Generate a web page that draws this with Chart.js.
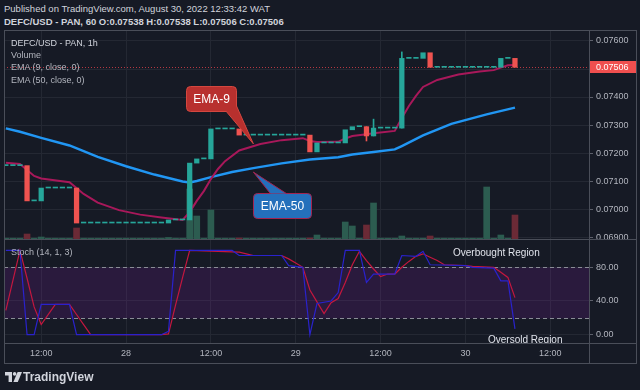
<!DOCTYPE html>
<html>
<head>
<meta charset="utf-8">
<title>DEFC/USD - PAN, 1h</title>
<script src="https://cdn.jsdelivr.net/npm/chart.js@4.4.1/dist/chart.umd.min.js"></script>
<style>
  html, body { margin: 0; padding: 0; }
  body { width: 640px; height: 390px; background: #161a25; position: relative; overflow: hidden;
         font-family: 'Liberation Sans', Arial, sans-serif; }
  .txt { position: absolute; white-space: nowrap; line-height: 11px; font-size: 9px; color: #b2b5be; }
  .line { position: absolute; background: #4a4e59; }
  canvas { position: absolute; }
</style>
</head>
<body>
<div class="txt" style="left:4px;top:3px;font-size:9.5px;color:#d1d4dc">Published on TradingView.com, August 30, 2022 12:33:42 WAT</div>
<div class="txt" style="left:4px;top:16px;font-size:9.5px;font-weight:bold;color:#d1d4dc">DEFC/USD - PAN, 60 O:0.07538 H:0.07538 L:0.07506 C:0.07506</div>

<canvas id="mainChart" width="632" height="208" style="left:4px;top:31px"></canvas>
<canvas id="stochChart" width="632" height="123" style="left:4px;top:240px"></canvas>

<!-- frame -->
<div class="line" style="left:4px;top:30px;width:633px;height:1px"></div>
<div class="line" style="left:4px;top:363px;width:633px;height:1px"></div>
<div class="line" style="left:4px;top:30px;width:1px;height:334px"></div>
<div class="line" style="left:636px;top:30px;width:1px;height:334px"></div>
<div class="line" style="left:4px;top:239px;width:633px;height:1px"></div>
<div class="line" style="left:4px;top:343px;width:633px;height:1px"></div>
<div class="line" style="left:589px;top:30px;width:1px;height:334px"></div>

<div class="txt" style="left:11px;top:38px;color:#d1d4dc">DEFC/USD - PAN, 1h</div>
<div class="txt" style="left:11px;top:50px">Volume</div>
<div class="txt" style="left:11px;top:62px">EMA (9, close, 0)</div>
<div class="txt" style="left:11px;top:74.5px">EMA (50, close, 0)</div>
<div class="txt" style="left:11px;top:246.5px">Stoch (14, 1, 3)</div>

<svg style="position:absolute;left:5px;top:372px" width="17" height="10" viewBox="0 0 17 10">
  <path d="M0 0H7V10H3.6V3.4H0Z" fill="#d1d4dc"/>
  <circle cx="9.6" cy="1.9" r="1.8" fill="#d1d4dc"/>
  <path d="M12.6 0H17L12.8 10H8.4Z" fill="#d1d4dc"/>
</svg>
<div class="txt" style="left:23px;top:371px;font-size:12px;line-height:12px;font-weight:bold;color:#d1d4dc">TradingView</div>

<script>
// hourly candles, hour 7 = Aug 27 07:00 ... hour 79 = Aug 30 07:00
const firstHour = 7;
const opens = [
  0.07155, 0.07155, 0.07155, 0.07155, 0.07029, 0.07029, 0.07075, 0.07075, 0.07075, 0.07075,
  0.07075, 0.06950, 0.06950, 0.06950, 0.06950, 0.06950, 0.06950, 0.06950, 0.06950, 0.06950,
  0.06950, 0.06950, 0.06950, 0.06950, 0.06961, 0.06961, 0.06961, 0.07164, 0.07179, 0.07179,
  0.07286, 0.07286, 0.07286, 0.07286, 0.07264, 0.07264, 0.07264, 0.07264, 0.07264, 0.07264,
  0.07264, 0.07264, 0.07264, 0.07264, 0.07204, 0.07236, 0.07236, 0.07236, 0.07236, 0.07283,
  0.07294, 0.07294, 0.07261, 0.07289, 0.07289, 0.07289, 0.07289, 0.07538, 0.07538, 0.07538,
  0.07558, 0.07506, 0.07506, 0.07506, 0.07506, 0.07506, 0.07506, 0.07506, 0.07506, 0.07506,
  0.07506, 0.07538, 0.07538
];
const closes = [
  0.07155, 0.07155, 0.07155, 0.07029, 0.07029, 0.07075, 0.07075, 0.07075, 0.07075, 0.07075,
  0.06950, 0.06950, 0.06950, 0.06950, 0.06950, 0.06950, 0.06950, 0.06950, 0.06950, 0.06950,
  0.06950, 0.06950, 0.06950, 0.06961, 0.06961, 0.06961, 0.07164, 0.07179, 0.07179, 0.07286,
  0.07286, 0.07286, 0.07286, 0.07264, 0.07264, 0.07264, 0.07264, 0.07264, 0.07264, 0.07264,
  0.07264, 0.07264, 0.07264, 0.07204, 0.07236, 0.07236, 0.07236, 0.07236, 0.07283, 0.07294,
  0.07294, 0.07261, 0.07289, 0.07289, 0.07289, 0.07289, 0.07538, 0.07538, 0.07538, 0.07558,
  0.07506, 0.07506, 0.07506, 0.07506, 0.07506, 0.07506, 0.07506, 0.07506, 0.07506, 0.07506,
  0.07538, 0.07538, 0.07506
];
const volumes = [
  8, 8, 8, 50, 8, 20, 8, 8, 8, 8,
  110, 8, 8, 8, 8, 8, 8, 8, 8, 8,
  8, 8, 8, 15, 8, 8, 500, 230, 8, 290,
  8, 8, 8, 10, 8, 8, 8, 8, 8, 8,
  8, 8, 8, 10, 40, 8, 8, 8, 170, 130,
  8, 140, 360, 8, 8, 8, 30, 8, 8, 8,
  30, 8, 8, 8, 8, 8, 8, 8, 520, 8,
  40, 8, 240
];
// candles with wicks beyond the body
const wickHours = [58, 59, 63];
const wickLows = [0.07243, 0.07261, 0.07289];
const wickHighs = [0.07294, 0.07321, 0.07561];

const ema9Hours = [7, 9, 10, 11, 12, 16, 17, 18, 20, 23, 26, 29, 32, 33, 34, 35, 36, 37, 38, 40,
  43, 46, 49, 50, 51, 54, 55, 56, 58, 59, 62, 63, 64, 65, 66, 68, 71, 74, 76, 77, 78, 79];
const ema9 = [0.07165, 0.07161, 0.07139, 0.07118, 0.07109, 0.07096, 0.07075, 0.07054, 0.07023, 0.06996,
  0.06980, 0.06970, 0.06961, 0.06989, 0.07029, 0.07064, 0.07107, 0.07143, 0.07171, 0.07209,
  0.07232, 0.07246, 0.07253, 0.07243, 0.07239, 0.07240, 0.07252, 0.07261, 0.07267, 0.07271,
  0.07279, 0.07325, 0.07368, 0.07404, 0.07436, 0.07461, 0.07480, 0.07491, 0.07496, 0.07505,
  0.07513, 0.07514];
const ema50Hours = [7, 9, 12, 16, 20, 24, 28, 32, 33, 34, 36, 39, 42, 46, 50, 54, 56, 59, 62, 63, 66, 70, 75, 79];
const ema50 = [0.07288, 0.07276, 0.07254, 0.07227, 0.07186, 0.07153, 0.07123, 0.07098, 0.07095, 0.07100,
  0.07114, 0.07132, 0.07146, 0.07163, 0.07177, 0.07185, 0.07195, 0.07204, 0.07213, 0.07225,
  0.07263, 0.07304, 0.07338, 0.07362];

const kHours = [7, 9, 10, 11, 12, 16, 17, 29, 30, 31, 39, 40, 46, 47, 49, 50, 51, 53, 54, 55,
  57, 58, 59, 62, 63, 65, 66, 67, 72, 73, 76, 77, 78, 79];
const kValues = [100, 100, 0, 0, 36, 36, 0, 0, 4, 100, 100, 94, 94, 82, 80, 0, 37, 40, 50, 100,
  100, 62, 72, 72, 94, 93, 99, 83, 82, 80, 79, 64, 64, 7];
const dHours = [7, 9, 10, 11, 12, 14, 16, 17, 18, 19, 29, 30, 31, 32, 33, 40, 41, 42, 46, 47,
  48, 49, 50, 51, 52, 53, 54, 55, 56, 57, 58, 59, 60, 61, 62, 63, 64, 65, 66, 67,
  68, 69, 72, 73, 76, 77, 78, 79];
const dValues = [29, 100, 67, 33, 12, 36, 36, 24, 12, 0, 0, 1, 35, 68, 100, 98, 96, 94, 94, 90,
  85, 80, 53, 39, 25, 38, 43, 62, 83, 99, 88, 78, 69, 72, 72, 80, 87, 93, 96, 92,
  88, 83, 82, 81, 80, 74, 68, 44];

const tickHours = [12, 24, 36, 48, 60, 72, 84];
const tickText = ['12:00', '28', '12:00', '29', '12:00', '30', '12:00'];
const priceTicks = [0.069, 0.070, 0.071, 0.072, 0.073, 0.074, 0.075, 0.076];
const stochTicks = [0, 40, 80];
const lastPrice = 0.07506;

const upColor = '#26a69a', downColor = '#ef5350';
const gridColor = '#242833', axisColor = '#4a4e59';

Chart.defaults.font.family = "'Liberation Sans', Arial, sans-serif";
Chart.defaults.color = '#b2b5be';
Chart.defaults.animation = false;

const hours = closes.map((c, i) => firstHour + i);
const isUp = closes.map((c, i) => c >= opens[i]);

function timeAxis(showLabels) {
  return {
    type: 'linear', min: 6.74, max: 89.47, offset: false,
    grid: { color: gridColor, offset: false, drawTicks: false },
    border: { display: false },
    afterBuildTicks: s => { s.ticks = tickHours.map(v => ({ value: v })); },
    ticks: { display: showLabels, autoSkip: false, maxRotation: 0, padding: 5, font: { size: 9 },
      callback: v => tickText[tickHours.indexOf(v)] },
    afterFit: s => { s.height = showLabels ? 20 : 0; s.paddingLeft = 0; s.paddingRight = 0; }
  };
}

function priceAxis(min, max, ticks, digits) {
  return {
    position: 'right', min: min, max: max,
    grid: { color: gridColor, tickColor: '#5d606b', tickLength: 4 },
    border: { color: axisColor },
    afterBuildTicks: s => { s.ticks = ticks.map(v => ({ value: v })); },
    ticks: { padding: 3, font: { size: 9 }, callback: v => v.toFixed(digits) },
    afterFit: s => { s.width = 47; s.paddingTop = 0; s.paddingBottom = 0; }
  };
}

function callout(ctx, box, base, tip, fill, stroke, text) {
  ctx.save();
  ctx.fillStyle = fill;
  ctx.strokeStyle = stroke;
  ctx.lineWidth = 1;
  ctx.beginPath();
  ctx.roundRect(box.x + 0.5, box.y + 0.5, box.w, box.h, 4);
  ctx.fill();
  ctx.stroke();
  ctx.beginPath();
  ctx.moveTo(base[0], base[1]);
  ctx.lineTo(tip.x, tip.y);
  ctx.lineTo(base[2], base[3]);
  ctx.closePath();
  ctx.fill();
  ctx.beginPath();
  ctx.moveTo(base[0], base[1]);
  ctx.lineTo(tip.x, tip.y);
  ctx.lineTo(base[2], base[3]);
  ctx.stroke();
  ctx.fillStyle = '#ffffff';
  ctx.font = "12px 'Liberation Sans', Arial, sans-serif";
  ctx.textAlign = 'center';
  ctx.textBaseline = 'middle';
  ctx.fillText(text, box.x + box.w / 2 + 0.5, box.y + box.h / 2 + 1);
  ctx.restore();
}

const mainDecor = {
  id: 'mainDecor',
  beforeDatasetsDraw(chart) {
    const { ctx, chartArea: a, scales } = chart;
    const y = Math.round(scales.y.getPixelForValue(lastPrice)) + 0.5;
    ctx.save();
    ctx.strokeStyle = 'rgba(200,60,70,0.9)';
    ctx.setLineDash([1, 2]);
    ctx.beginPath();
    ctx.moveTo(a.left, y);
    ctx.lineTo(a.right, y);
    ctx.stroke();
    ctx.restore();
  },
  afterDraw(chart) {
    const { ctx, chartArea: a, scales } = chart;
    const y = scales.y.getPixelForValue(lastPrice);
    ctx.save();
    ctx.fillStyle = '#f04f4f';
    ctx.fillRect(a.right + 1, Math.round(y) - 6, 48, 12);
    ctx.fillStyle = '#ffffff';
    ctx.font = "9px 'Liberation Sans', Arial, sans-serif";
    ctx.textBaseline = 'middle';
    ctx.fillText(lastPrice.toFixed(5), a.right + 7, Math.round(y) + 0.5);
    ctx.restore();

    // EMA-9 note
    const t9 = { x: scales.x.getPixelForValue(42), y: scales.y.getPixelForValue(0.07233) };
    const b9 = { x: Math.round(t9.x - 67), y: Math.round(t9.y - 58), w: 50, h: 25 };
    callout(ctx, b9, [t9.x - 27, b9.y + b9.h + 0.5, b9.x + b9.w + 0.5, b9.y + b9.h - 5], t9,
      '#b8302e', '#d4473f', 'EMA-9');
    // EMA-50 note
    const t50 = { x: scales.x.getPixelForValue(42), y: scales.y.getPixelForValue(0.07132) };
    const b50 = { x: Math.round(t50.x), y: Math.round(t50.y + 21), w: 58, h: 25 };
    callout(ctx, b50, [t50.x + 17, b50.y + 0.5, t50.x + 33, b50.y + 0.5], t50,
      '#2470bb', '#a3234f', 'EMA-50');
  }
};

new Chart(document.getElementById('mainChart'), {
  type: 'bar',
  data: {
    datasets: [
      {
        label: 'Volume', yAxisID: 'vol', order: 10, grouped: false, barThickness: 6,
        data: hours.map((h, i) => ({ x: h, y: volumes[i] })),
        backgroundColor: isUp.map(u => u ? '#2c5c50' : '#6b2a36')
      },
      {
        label: 'EMA 50', type: 'line', order: 4, yAxisID: 'y',
        data: ema50Hours.map((h, i) => ({ x: h, y: ema50[i] })),
        borderColor: '#2196f3', borderWidth: 2.5, pointRadius: 0, tension: 0
      },
      {
        label: 'EMA 9', type: 'line', order: 3, yAxisID: 'y',
        data: ema9Hours.map((h, i) => ({ x: h, y: ema9[i] })),
        borderColor: '#a8185a', borderWidth: 2, pointRadius: 0, tension: 0
      },
      {
        label: 'Wicks', yAxisID: 'y', order: 2, grouped: false, barThickness: 1,
        data: wickHours.map((h, i) => ({ x: h, y: [wickLows[i], wickHighs[i]] })),
        backgroundColor: wickHours.map(h => isUp[h - firstHour] ? upColor : downColor)
      },
      {
        label: 'Candles', yAxisID: 'y', order: 1, grouped: false, barThickness: 4.6, minBarLength: 1,
        data: hours.map((h, i) => ({ x: h, y: [opens[i], closes[i]] })),
        backgroundColor: isUp.map(u => u ? upColor : downColor)
      }
    ]
  },
  options: {
    responsive: false,
    layout: { padding: 0 },
    plugins: { legend: { display: false }, tooltip: { enabled: false } },
    scales: {
      x: timeAxis(false),
      y: priceAxis(0.06893, 0.076357, priceTicks, 5),
      vol: { display: false, min: 0, max: 2080 }
    }
  },
  plugins: [mainDecor]
});

const stochDecor = {
  id: 'stochDecor',
  beforeDatasetsDraw(chart) {
    const { ctx, chartArea: a, scales } = chart;
    const y80 = Math.round(scales.y.getPixelForValue(80)) + 0.5;
    const y20 = Math.round(scales.y.getPixelForValue(20)) + 0.5;
    ctx.save();
    ctx.fillStyle = 'rgba(126,30,160,0.2)';
    ctx.fillRect(a.left, y80, a.right - a.left, y20 - y80);
    ctx.strokeStyle = '#8a8d96';
    ctx.setLineDash([4, 3]);
    ctx.beginPath();
    ctx.moveTo(a.left, y80); ctx.lineTo(a.right, y80);
    ctx.moveTo(a.left, y20); ctx.lineTo(a.right, y20);
    ctx.stroke();
    ctx.restore();
  },
  afterDatasetsDraw(chart) {
    const { ctx, chartArea: a } = chart;
    ctx.save();
    ctx.beginPath();
    ctx.rect(a.left, a.top, a.right - a.left, a.bottom - a.top);
    ctx.clip();
    ctx.fillStyle = '#e0e3eb';
    ctx.font = "10px 'Liberation Sans', Arial, sans-serif";
    ctx.fillText('Overbought Region', 449, 16);
    ctx.fillText('Oversold Region', 484, a.bottom);
    ctx.restore();
  }
};

new Chart(document.getElementById('stochChart'), {
  type: 'line',
  data: {
    datasets: [
      {
        label: '%K', data: kHours.map((h, i) => ({ x: h, y: kValues[i] })),
        borderColor: '#2a22cc', borderWidth: 1.2, pointRadius: 0, tension: 0
      },
      {
        label: '%D', data: dHours.map((h, i) => ({ x: h, y: dValues[i] })),
        borderColor: '#c4173f', borderWidth: 1.2, pointRadius: 0, tension: 0
      }
    ]
  },
  options: {
    responsive: false,
    layout: { padding: 0 },
    plugins: { legend: { display: false }, tooltip: { enabled: false } },
    scales: {
      x: timeAxis(true),
      y: priceAxis(-9.85, 112.4, stochTicks, 2)
    }
  },
  plugins: [stochDecor]
});
</script>
</body>
</html>
